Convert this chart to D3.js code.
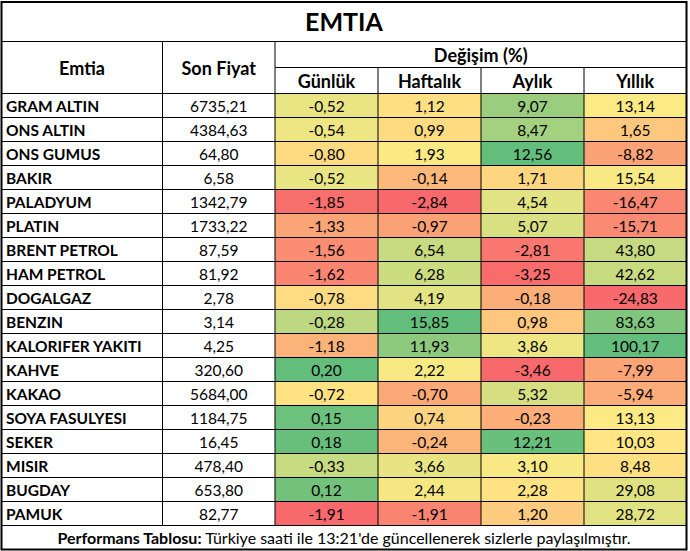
<!DOCTYPE html>
<html>
<head>
<meta charset="utf-8">
<script src="https://cdn.jsdelivr.net/npm/d3@7"></script>
<style>
  body { margin: 0; background: #fff; }
  svg { display: block; font-family: Lato, "Open Sans", sans-serif; }
</style>
</head>
<body>
<svg width="690" height="551"></svg>
<script>
const names = ["GRAM ALTIN", "ONS ALTIN", "ONS GUMUS", "BAKIR", "PALADYUM", "PLATIN",
  "BRENT PETROL", "HAM PETROL", "DOGALGAZ", "BENZIN", "KALORIFER YAKITI", "KAHVE",
  "KAKAO", "SOYA FASULYESI", "SEKER", "MISIR", "BUGDAY", "PAMUK"]
const prices = [6735.21, 4384.63, 64.80, 6.58, 1342.79, 1733.22, 87.59, 81.92, 2.78,
  3.14, 4.25, 320.60, 5684.00, 1184.75, 16.45, 478.40, 653.80, 82.77]
const daily = [-0.52, -0.54, -0.80, -0.52, -1.85, -1.33, -1.56, -1.62, -0.78,
  -0.28, -1.18, 0.20, -0.72, 0.15, 0.18, -0.33, 0.12, -1.91]
const weekly = [1.12, 0.99, 1.93, -0.14, -2.84, -0.97, 6.54, 6.28, 4.19,
  15.85, 11.93, 2.22, -0.70, 0.74, -0.24, 3.66, 2.44, -1.91]
const monthly = [9.07, 8.47, 12.56, 1.71, 4.54, 5.07, -2.81, -3.25, -0.18,
  0.98, 3.86, -3.46, 5.32, -0.23, 12.21, 3.10, 2.28, 1.20]
const yearly = [13.14, 1.65, -8.82, 15.54, -16.47, -15.71, 43.80, 42.62, -24.83,
  83.63, 100.17, -7.99, -5.94, 13.13, 10.03, 8.48, 29.08, 28.72]
const changeLabels = ["Günlük", "Haftalık", "Aylık", "Yıllık"]
const changeSeries = [daily, weekly, monthly, yearly]

const svg = d3.select("svg")
const fmt = v => d3.format(".2f")(v).replace(".", ",").replace("−", "-")

// layout
const tLeft = 1.5, tRight = 686.5, tTop = 2, titleBottom = 41.5
const headMid = 67.5, headBottom = 93.5, rowH = 24
const colEdges = [tLeft, 162.5, 275, 378, 481, 584, tRight]
const cellFont = 15.5, headFont = 18, mid = "0.45em"

const y = d3.scaleBand().domain(names).range([headBottom, headBottom + rowH * names.length])
const footTop = y.range()[1], tBottom = footTop + 24

const colorScales = changeSeries.map(s => {
  const sorted = s.slice().sort(d3.ascending)
  return d3.scaleLinear()
    .domain([sorted[0], d3.quantile(sorted, 0.5), sorted[sorted.length - 1]])
    .range(["#F8696B", "#FFEB84", "#63BE7B"])
    .interpolate(d3.interpolateRgb)
})

// colored cells
changeSeries.forEach((s, ci) => {
  const x0 = colEdges[ci + 2], x1 = colEdges[ci + 3]
  const g = svg.append("g").attr("class", "col-" + ci)
  g.selectAll("rect")
    .data(s)
    .enter()
    .append("rect")
    .attr("x", x0)
    .attr("y", (d, i) => y(names[i]))
    .attr("width", x1 - x0)
    .attr("height", y.bandwidth())
    .attr("fill", d => colorScales[ci](d))
  g.selectAll("text")
    .data(s)
    .enter()
    .append("text")
    .attr("x", (x0 + x1) / 2)
    .attr("y", (d, i) => y(names[i]) + y.bandwidth() / 2)
    .attr("dy", mid)
    .attr("text-anchor", "middle")
    .attr("font-size", cellFont)
    .attr("fill", "#000")
    .text(d => fmt(d))
})

// names and prices
svg.append("g").selectAll("text")
  .data(names)
  .enter()
  .append("text")
  .attr("x", 6)
  .attr("y", d => y(d) + y.bandwidth() / 2)
  .attr("dy", mid)
  .attr("font-size", cellFont)
  .attr("font-weight", "bold")
  .attr("fill", "#000")
  .text(d => d)

svg.append("g").selectAll("text")
  .data(prices)
  .enter()
  .append("text")
  .attr("x", (colEdges[1] + colEdges[2]) / 2)
  .attr("y", (d, i) => y(names[i]) + y.bandwidth() / 2)
  .attr("dy", mid)
  .attr("text-anchor", "middle")
  .attr("font-size", cellFont)
  .attr("fill", "#000")
  .text(d => fmt(d))

// grid lines
const lines = svg.append("g").attr("stroke", "#000").attr("stroke-width", 1)
lines.selectAll("line.row")
  .data(names)
  .enter()
  .append("line")
  .attr("x1", tLeft).attr("x2", tRight)
  .attr("y1", d => y(d)).attr("y2", d => y(d))
lines.append("line").attr("x1", tLeft).attr("x2", tRight).attr("y1", footTop).attr("y2", footTop)
lines.append("line").attr("x1", tLeft).attr("x2", tRight).attr("y1", titleBottom).attr("y2", titleBottom)
lines.append("line").attr("x1", colEdges[2]).attr("x2", tRight).attr("y1", headMid).attr("y2", headMid)
colEdges.slice(1, -1).forEach((x, i) => {
  lines.append("line")
    .attr("x1", x).attr("x2", x)
    .attr("y1", i < 2 ? titleBottom : headMid)
    .attr("y2", footTop)
})

svg.append("rect")
  .attr("x", tLeft).attr("y", tTop)
  .attr("width", tRight - tLeft).attr("height", tBottom - tTop)
  .attr("fill", "none").attr("stroke", "#000").attr("stroke-width", 2)

// headers
svg.append("text")
  .attr("x", (tLeft + tRight) / 2).attr("y", (tTop + titleBottom) / 2)
  .attr("dy", "0.38em").attr("text-anchor", "middle")
  .attr("font-size", 25).attr("font-weight", "bold")
  .text("EMTIA")

const headText = (x, yy, t) => svg.append("text")
  .attr("x", x).attr("y", yy).attr("dy", "0.4em")
  .attr("text-anchor", "middle").attr("font-size", headFont).attr("font-weight", "bold")
  .text(t)

headText((colEdges[0] + colEdges[1]) / 2, (titleBottom + headBottom) / 2, "Emtia")
headText((colEdges[1] + colEdges[2]) / 2, (titleBottom + headBottom) / 2, "Son Fiyat")
headText((colEdges[2] + tRight) / 2, (titleBottom + headMid) / 2, "Değişim (%)")
changeLabels.forEach((t, i) => headText((colEdges[i + 2] + colEdges[i + 3]) / 2, (headMid + headBottom) / 2, t))

// footer
const foot = svg.append("text")
  .attr("x", (tLeft + tRight) / 2).attr("y", (footTop + tBottom) / 2)
  .attr("dy", "0.42em").attr("text-anchor", "middle").attr("font-size", 16)
foot.append("tspan").attr("font-weight", "bold").text("Performans Tablosu:")
foot.append("tspan").text(" Türkiye saati ile 13:21'de güncellenerek sizlerle paylaşılmıştır.")
</script>
</body>
</html>
